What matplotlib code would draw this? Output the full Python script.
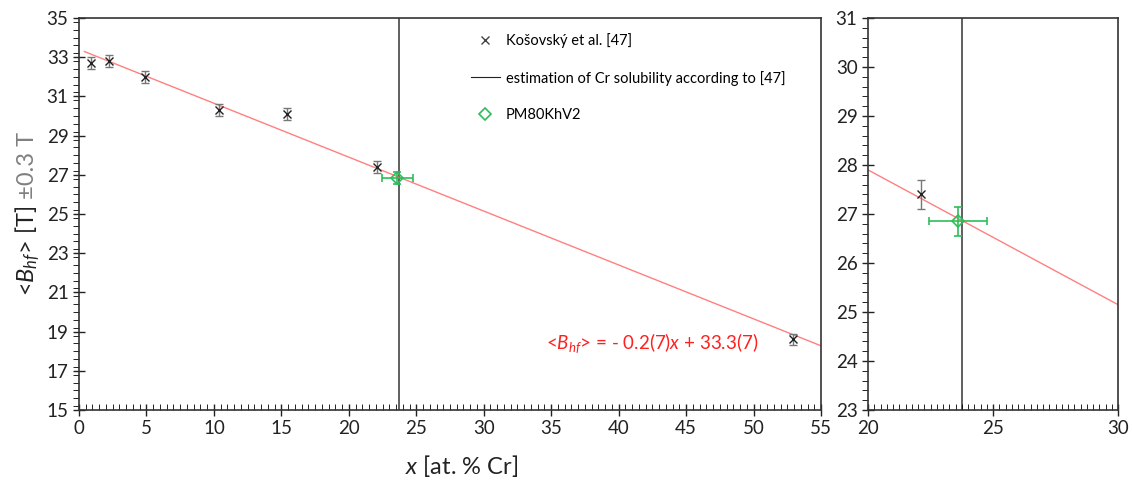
import numpy as np
import matplotlib.pyplot as plt
from matplotlib.lines import Line2D
from matplotlib.ticker import MultipleLocator

plt.rcParams['font.family'] = ['Lato', 'DejaVu Sans']
plt.rcParams['mathtext.fontset'] = 'custom'
plt.rcParams['mathtext.rm'] = 'Lato'
plt.rcParams['mathtext.it'] = 'Lato:italic'

# Košovský et al. [47]
kos_x = [0.9, 2.2, 4.9, 10.4, 15.4, 22.1, 52.9]
kos_y = [32.7, 32.8, 32.0, 30.3, 30.1, 27.4, 18.6]
kos_err = [0.3, 0.3, 0.3, 0.3, 0.3, 0.3, 0.3]

# PM80KhV2
pm_x = [23.6]
pm_y = [26.85]
pm_xerr = [1.15]
pm_yerr = [0.3]

# Cr solubility estimate
cr_sol = 23.75

# linear fit
fit_slope = -0.275
fit_icpt = 33.4
fit_range = [0.4, 55]

red = '#ff6060'
green = '#2ebd5a'

fig = plt.figure(figsize=(11.32, 4.8), dpi=100)
ax1 = fig.add_axes([79/1132, 1-410/480, (821-79)/1132, 392/480])
ax2 = fig.add_axes([868/1132, 1-410/480, (1118-868)/1132, 392/480])


def draw(ax, xlo, xhi):
    xs = np.array([max(fit_range[0], xlo), min(fit_range[1], xhi)])
    ax.plot(xs, fit_slope*xs + fit_icpt, color=red, lw=1, alpha=0.8, zorder=2)
    ax.axvline(cr_sol, color='#444444', lw=1.2, zorder=1)
    ax.errorbar(kos_x, kos_y, yerr=kos_err, fmt='x', color='#222222', ms=5.5, mew=1,
                ecolor='#777777', elinewidth=1, capsize=3, zorder=3)
    ax.errorbar(pm_x, pm_y, xerr=pm_xerr, yerr=pm_yerr, fmt='D', mfc='none', mec=green,
                ms=6, mew=1.2, ecolor=green, elinewidth=1.2, capsize=3, zorder=4)
    ax.set_xlim(xlo, xhi)
    ax.tick_params(which='major', direction='inout', length=8, width=1, labelsize=13.5,
                   colors='#222222')
    ax.tick_params(axis='x', which='minor', direction='in', length=4)
    ax.tick_params(axis='y', which='minor', direction='out', length=4)
    for s in ax.spines.values():
        s.set_color('#333333')
        s.set_linewidth(1.2)


draw(ax1, 0, 55)
ax1.set_ylim(15, 35)
ax1.xaxis.set_major_locator(MultipleLocator(5))
ax1.xaxis.set_minor_locator(MultipleLocator(0.5))
ax1.set_yticks(np.arange(15, 36, 2))
ax1.yaxis.set_minor_locator(MultipleLocator(0.4))

draw(ax2, 20, 30)
ax2.set_ylim(23, 31)
ax2.xaxis.set_major_locator(MultipleLocator(5))
ax2.xaxis.set_minor_locator(MultipleLocator(0.25))
ax2.yaxis.set_major_locator(MultipleLocator(1))
ax2.yaxis.set_minor_locator(MultipleLocator(0.2))

# legend
handles = [
    Line2D([], [], ls='none', marker='x', color='#444444', ms=6, mew=1),
    Line2D([], [], color='#222222', lw=0.8),
    Line2D([], [], ls='none', marker='D', mfc='none', mec=green, ms=6, mew=1.2),
]
labels = ['Košovský et al. [47]', 'estimation of Cr solubility according to [47]', 'PM80KhV2']
ax1.legend(handles, labels, loc='upper left', bbox_to_anchor=(0.51, 0.995), frameon=False,
           fontsize=10.5, labelspacing=1.55, handlelength=2.0, handletextpad=0.4)

ax1.text(34.6, 18.4, r'<$\mathit{B}_{\mathit{hf}}$> = - 0.2(7)$\mathit{x}$ + 33.3(7)',
         color='#ff2020', fontsize=13.5, va='center', ha='left')

fig.text(462/1132, 1-466/480, r'$\mathit{x}$ [at. % Cr]', fontsize=17, ha='center',
         va='center', color='#222222')
# y label: dark part, then grey "±0.3 T" right after it
t1 = fig.text(28/1132, 1-296/480, r'<$\mathit{B}_{\mathit{hf}}$> [T]', fontsize=17,
              rotation=90, ha='center', va='bottom', color='#222222')
ax1.annotate(' ±0.3 T', xy=(0.5, 1), xycoords=t1, fontsize=17, rotation=90,
             ha='center', va='bottom', color='#808080', annotation_clip=False)

fig.savefig('out.png', dpi=100)
